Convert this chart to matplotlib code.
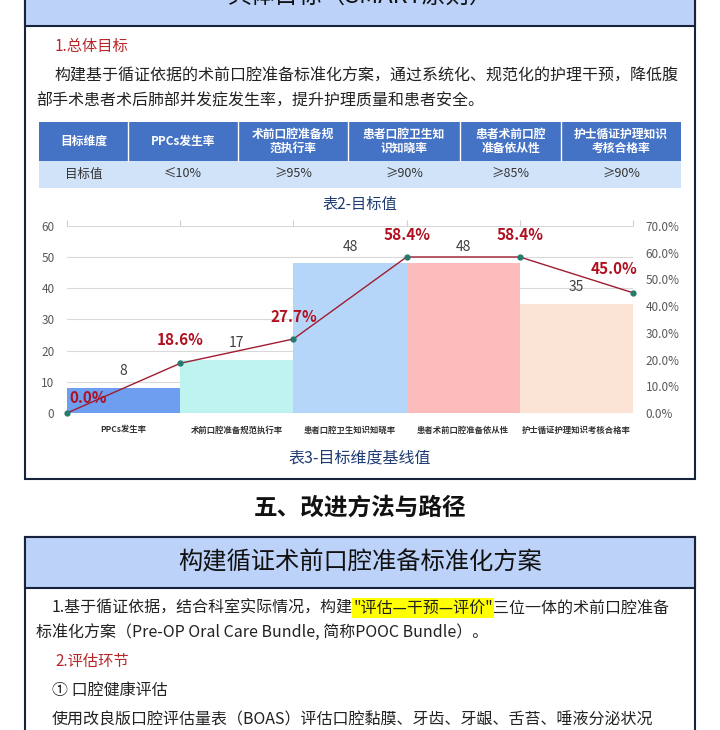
import numpy as np
import matplotlib.pyplot as plt
from matplotlib.patches import Rectangle

plt.rcParams['font.family'] = ['Noto Sans CJK SC', 'DejaVu Sans']

# 表格数据
table_head = ['目标维度', 'PPCs发生率', '术前口腔准备规\n范执行率', '患者口腔卫生知\n识知晓率',
              '患者术前口腔\n准备依从性', '护士循证护理知识\n考核合格率']
table_vals = ['目标值', '≤10%', '≥95%', '≥90%', '≥85%', '≥90%']
col_edges = [39, 128, 238, 348, 460, 561, 681]

# 图表数据
categories = ['PPCs发生率', '术前口腔准备规范执行率', '患者口腔卫生知识知晓率',
              '患者术前口腔准备依从性', '护士循证护理知识考核合格率']
counts = [8, 17, 48, 48, 35]
pct = [0.0, 18.6, 27.7, 58.4, 58.4, 45.0]
bar_colors = ['#6d9ef0', '#bff3f0', '#b5d6f8', '#fdbcbc', '#fbe4d5']

NAVY = '#17223b'
HEAD_BG = '#bcd2f9'
RED_TXT = '#b8262a'

fig = plt.figure(figsize=(7.2, 7.3), dpi=100)
bg = fig.add_axes([0, 0, 1, 1])
bg.set_xlim(0, 720)
bg.set_ylim(730, 0)
bg.axis('off')

# 第一个框
bg.add_patch(Rectangle((25, -10), 670, 489, facecolor='white', edgecolor=NAVY, lw=1.5))
bg.add_patch(Rectangle((25, -10), 670, 36, facecolor=HEAD_BG, edgecolor=NAVY, lw=1.5))
bg.text(360, -4, '具体目标（SMART原则）', ha='center', va='center', fontsize=17, color='#111111')

bg.text(55, 46, '1.总体目标', ha='left', va='center', fontsize=11, color=RED_TXT)
bg.text(55, 76, '构建基于循证依据的术前口腔准备标准化方案，通过系统化、规范化的护理干预，降低腹',
        ha='left', va='center', fontsize=11.5, color='#222222')
bg.text(36, 101, '部手术患者术后肺部并发症发生率，提升护理质量和患者安全。',
        ha='left', va='center', fontsize=11.5, color='#222222')

# 表格
bg.add_patch(Rectangle((col_edges[0], 122), col_edges[-1] - col_edges[0], 39, facecolor='#4472c4', lw=0))
bg.add_patch(Rectangle((col_edges[0], 161), col_edges[-1] - col_edges[0], 27, facecolor='#d0e3f8', lw=0))
for i in range(len(table_head)):
    cx = (col_edges[i] + col_edges[i + 1]) / 2
    bg.text(cx, 141.5, table_head[i], ha='center', va='center', fontsize=8.5,
            color='white', weight='bold', linespacing=1.15)
    bg.text(cx, 174.5, table_vals[i], ha='center', va='center', fontsize=9, color='#333333')
for x in col_edges[1:-1]:
    bg.plot([x, x], [122, 161], color='white', lw=1)

bg.text(360, 204, '表2-目标值', ha='center', va='center', fontsize=11, color='#1f3b73')
bg.text(360, 459, '表3-目标维度基线值', ha='center', va='center', fontsize=11.5, color='#1f3b73')

# 标题
bg.text(360, 508, '五、改进方法与路径', ha='center', va='center', fontsize=17,
        weight='bold', color='#111111')

# 第二个框
bg.add_patch(Rectangle((25, 537), 670, 210, facecolor='white', edgecolor=NAVY, lw=1.5))
bg.add_patch(Rectangle((25, 537), 670, 51, facecolor=HEAD_BG, edgecolor=NAVY, lw=1.5))
bg.text(360, 562, '构建循证术前口腔准备标准化方案', ha='center', va='center', fontsize=17.5, color='#111111')

t1 = bg.text(52, 608, '1.基于循证依据，结合科室实际情况，构建', ha='left', va='center',
             fontsize=11.5, color='#222222')
t2 = bg.annotate('"评估—干预—评价"', xy=(1, 0.5), xycoords=t1, ha='left', va='center',
                 fontsize=11.5, color='#222222',
                 bbox=dict(boxstyle='square,pad=0.1', facecolor='#ffff00', edgecolor='none'))
bg.annotate('三位一体的术前口腔准备', xy=(1, 0.5), xycoords=t2, ha='left', va='center',
            fontsize=11.5, color='#222222')
bg.text(36, 632, '标准化方案（Pre-OP Oral Care Bundle, 简称POOC Bundle）。', ha='left', va='center',
        fontsize=11.5, color='#222222')
bg.text(55, 661, '2.评估环节', ha='left', va='center', fontsize=11, color=RED_TXT)
bg.text(52, 690, '① 口腔健康评估', ha='left', va='center', fontsize=11.5, color='#222222')
bg.text(52, 720, '使用改良版口腔评估量表（BOAS）评估口腔黏膜、牙齿、牙龈、舌苔、唾液分泌状况',
        ha='left', va='center', fontsize=11.5, color='#222222')

# 图表
ax = fig.add_axes([67 / 720, 1 - 413 / 730, 566 / 720, 187 / 730])
ax.patch.set_alpha(0)
x_bar = np.arange(len(counts)) + 0.5
ax.bar(x_bar, counts, width=1.0, color=bar_colors, zorder=2)
ax.set_xlim(0, len(counts))
ax.set_ylim(0, 60)
ax.set_yticks(range(0, 61, 10))
ax.grid(axis='y', color='#d9d9d9', lw=0.8, zorder=0)
ax.set_axisbelow(True)
for s in ax.spines.values():
    s.set_visible(False)
ax.tick_params(axis='y', length=0, labelsize=8.5, labelcolor='#595959', pad=9)
ax.set_xticks(x_bar)
ax.set_xticklabels(categories, fontsize=6, weight='bold', color='#333333')
ax.tick_params(axis='x', length=0, pad=9)
ax.vlines(np.arange(len(counts) + 1), 60, 61.8, color='#d0d0d0', lw=0.8, clip_on=False)
for xb, v in zip(x_bar, counts):
    ax.annotate(str(v), (xb, v), xytext=(0, 12), textcoords='offset points',
                ha='center', va='center', fontsize=10, color='#404040')

ax2 = ax.twinx()
ax2.set_ylim(0, 70)
ax2.set_yticks(range(0, 71, 10))
ax2.set_yticklabels(['%.1f%%' % v for v in range(0, 71, 10)])
for s in ax2.spines.values():
    s.set_visible(False)
ax2.tick_params(axis='y', length=0, labelsize=8.5, labelcolor='#595959', pad=9)
x_line = np.arange(len(pct))
ax2.plot(x_line, pct, color='#a01c32', lw=1.0, marker='o', markersize=3.5,
         markerfacecolor='#267a6c', markeredgecolor='#267a6c', clip_on=False, zorder=3)
offsets = [(15, 11), (0, 17), (0, 16), (0, 16), (0, 16), (-14, 17)]
for xv, v, off in zip(x_line, pct, offsets):
    ax2.annotate('%.1f%%' % v, (xv, v), xytext=off, textcoords='offset points',
                 ha='center', va='center', fontsize=11, weight='bold', color='#b01020')

fig.savefig('out.png', dpi=100)
